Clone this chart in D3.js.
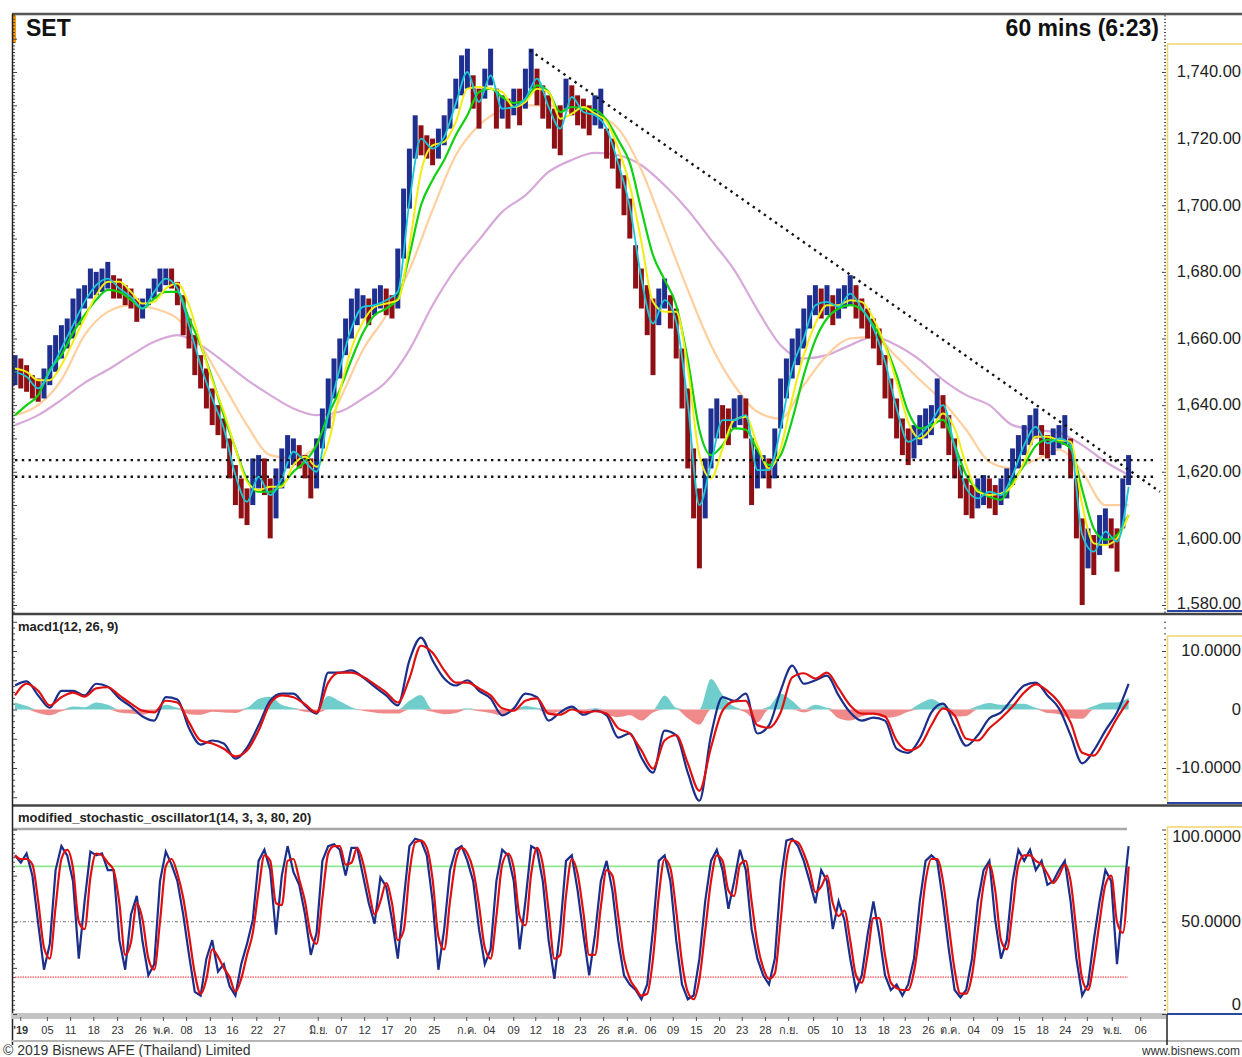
<!DOCTYPE html>
<html lang="th">
<head>
<meta charset="utf-8">
<script src="https://d3js.org/d3.v7.min.js"></script>
<style>
  body { margin: 0; background: #fff; }
  svg { display: block; font-family: "Liberation Sans", Arial, "Noto Sans", "DejaVu Sans", sans-serif; }
</style>
</head>
<body>
<script>
// ---------- data, one point per ~day slot ----------
// price high / low, step 1
const priceHi = [
  1655,1654,1652,1649,1648,1651,1658,1661,1664,1666,
  1672,1675,1676,1681,1680,1681,1683,1679,1678,1676,
  1675,1672,1672,1675,1678,1681,1681,1681,1677,1673,
  1666,1661,1655,1651,1645,1640,1636,1630,1622,1618,
  1615,1624,1625,1624,1618,1621,1627,1631,1630,1628,
  1625,1624,1630,1639,1648,1654,1660,1666,1672,1675,
  1673,1672,1675,1676,1675,1673,1687,1705,1717,1727,
  1724,1721,1720,1723,1727,1732,1738,1745,1747,1739,
  1735,1741,1747,1735,1733,1732,1735,1735,1741,1747,
  1741,1736,1733,1729,1730,1738,1736,1733,1732,1730,
  1733,1735,1723,1720,1714,1709,1702,1688,1681,1676,
  1672,1675,1678,1673,1669,1657,1645,1627,1615,1624,
  1639,1642,1640,1639,1642,1643,1642,1630,1627,1625,
  1624,1633,1648,1654,1660,1663,1669,1673,1676,1675,
  1676,1673,1675,1676,1679,1676,1672,1669,1666,1663,
  1655,1648,1642,1636,1633,1634,1637,1639,1640,1648,
  1643,1637,1630,1622,1618,1616,1618,1619,1618,1616,
  1618,1621,1627,1631,1634,1637,1639,1634,1631,1633,
  1634,1637,1630,1618,1606,1603,1601,1607,1609,1606,
  1603,1618,1625];
const priceLo = [
  1646,1645,1644,1642,1641,1642,1646,1650,1654,1657,
  1660,1664,1669,1672,1673,1674,1675,1672,1672,1670,
  1669,1665,1666,1670,1672,1674,1676,1675,1670,1661,
  1657,1649,1645,1639,1634,1631,1627,1618,1610,1606,
  1604,1610,1615,1613,1600,1606,1615,1621,1622,1621,
  1618,1612,1615,1627,1633,1642,1648,1655,1660,1664,
  1666,1664,1667,1669,1667,1666,1669,1684,1699,1714,
  1715,1714,1712,1714,1718,1723,1729,1733,1735,1729,
  1723,1732,1736,1723,1726,1723,1727,1724,1729,1735,
  1730,1726,1723,1717,1715,1729,1727,1724,1723,1721,
  1724,1723,1714,1711,1705,1697,1690,1675,1669,1661,
  1649,1664,1669,1663,1654,1639,1621,1606,1591,1606,
  1621,1630,1630,1628,1633,1634,1630,1610,1615,1618,
  1615,1618,1633,1642,1648,1652,1657,1663,1667,1666,
  1667,1664,1666,1669,1670,1666,1663,1660,1657,1652,
  1642,1636,1630,1625,1622,1624,1628,1630,1631,1636,
  1633,1625,1618,1612,1607,1606,1609,1610,1609,1607,
  1610,1612,1616,1621,1625,1628,1630,1625,1624,1625,
  1627,1628,1618,1600,1580,1591,1589,1595,1598,1597,
  1590,1603,1616];

// moving averages, step 2
const maCyan = [
  1650,1648.5,1645,1650,1657,1664,1671,1676,1678,1675,
  1672.5,1669,1674,1678,1675,1664,1652,1642,1633,1619,
  1611,1618.5,1613,1618,1626,1623,1620,1637,1651,1663,
  1669.5,1670,1671.5,1674,1701,1720,1717,1720.5,1730.5,1740,
  1731,1739,1729,1729.5,1732,1738,1729.5,1723,1732.5,1728,
  1727,1723,1712.5,1699.5,1678,1664.5,1671.5,1665,1640.5,1610,
  1622.5,1635.5,1635.5,1637,1620.5,1620.5,1633,1651,1660,1670,
  1671,1669.5,1673.5,1669,1663,1653,1639,1629,1631,1635,
  1640,1627.5,1615,1612,1614,1613,1619,1628,1633.5,1628.5,
  1630,1628,1601,1596,1602,1599,1615.5];
const maYellow = [
  1651,1650,1647.5,1647.5,1652,1659,1666,1673,1677,1677,
  1674,1670.5,1671,1675,1676.5,1670,1658.5,1647.5,1638,1627,
  1617,1614.5,1615.5,1615.5,1622,1624.5,1621.5,1628.5,1644,1657,
  1665,1669.5,1670.5,1671.5,1688,1710,1718,1719,1725,1735,
  1735.5,1735,1734,1729.5,1731,1735,1734,1726,1727.5,1729.5,
  1727.5,1725,1717,1706,1689,1671,1668,1668,1651,1625,
  1618,1627,1635.5,1636.5,1628,1621,1627,1642,1655,1664.5,
  1670,1670,1671.5,1671,1666,1658,1647,1635,1630,1633,
  1637.5,1633,1622,1614,1613,1613.5,1616,1623,1630.5,1630.5,
  1629.5,1629,1610,1598.5,1598,1600,1607];
const maGreen = [
  1637,1640,1643,1650.6,1655,1661.7,1667,1671.6,1674.6,1674,
  1671.6,1669,1672,1674,1674,1666,1658,1648,1637,1627,
  1617.6,1614,1614,1616,1620,1623,1628,1637,1644.6,1653.6,
  1661.7,1667,1669,1672,1685,1700,1707.6,1713.6,1721,1727,
  1734,1735,1732.5,1730.7,1731.6,1736,1734,1728,1729.5,1729,
  1728.6,1725.6,1719.6,1712.7,1698.6,1685,1677.6,1670,1653.6,1632.6,
  1625,1628,1633,1632.6,1626.6,1622,1625,1635.6,1649,1659.6,
  1666,1669,1670,1668.6,1664,1658,1649,1638,1633,1634,
  1635.6,1628,1619,1614.6,1612.5,1611.6,1617,1622,1627.8,1629.6,
  1629,1627,1614.6,1603,1599.6,1601,1607];
// slow averages, step 4
const maOrange = [
  1637,1640,1647.6,1661,1668,1670,1669,1666,1658,1646,
  1634,1625,1624,1628,1641.6,1656.6,1667,1680.6,1698.6,1715,
  1724,1728.6,1730,1730,1728,1727,1723,1710.6,1692.6,1674.6,
  1658,1646,1638,1636,1646,1655,1660,1660.5,1654.5,1647.6,
  1641,1632.6,1623,1621,1623.6,1626.6,1620,1610,1610];
const maPurple = [
  1634,1637,1641.6,1646.7,1650.6,1655,1659,1661,1658,1653,
  1647.6,1643,1639,1637,1638,1642,1647,1656.6,1670,1681,
  1689.6,1698,1703,1710,1713.6,1715.7,1715,1712,1706,1698.6,
  1689.6,1680.6,1668.6,1658,1654,1655,1658,1660.5,1658,1653.6,
  1647.6,1643,1640,1634,1632.6,1631.7,1628,1623,1619];

// dotted guide lines: [index, price]
const trendLine = [[88.8, 1746.5], [197.4, 1614]];
const supportLevels = [1623.5, 1618.5];

// macd, step 2
const macdLine = [
  4.1,4.8,2.4,0.3,3.2,3.2,2.4,4.4,3.9,1.9,
  0.5,-1.2,-1.9,2.1,1.7,-3.2,-6.0,-5.3,-5.8,-8.4,
  -6.5,-2.7,1.5,2.7,2.7,0.7,-0.7,6.3,6.3,6.7,
  5.5,3.9,2.4,0.7,8.4,12.3,8.4,5.3,4.1,5,
  3.2,1.9,-1,0.2,2.7,2.1,-1.9,-0.5,0.5,-0.9,
  -0.2,-1,-4.8,-4.1,-8.2,-10.8,-3.6,-4.4,-10.8,-15.6,
  -4.4,2.1,1.5,2.7,-4.1,-2.7,3.2,7.5,4.4,5,
  5.8,2.4,-0.5,-1.9,-1.4,-1.9,-6.7,-7.4,-5,-0.5,
  1,-2.7,-6.2,-4.4,-1.5,-0.5,1.9,4.1,4.6,2.4,
  0.2,-4.4,-9.2,-7,-3.6,-0.5,4.4];
const macdSignal = [
  2.4,4.4,3.2,0.7,2.1,2.9,2.2,3.6,3.8,2.4,
  1,-0.2,-0.5,1.5,1.2,-2.2,-5.3,-5.8,-6.7,-8,
  -7,-3.6,1,2.4,2.1,0.9,-0.5,4.6,6.3,6.3,
  5.6,4.3,2.9,1.2,5.3,10.9,9.7,6.7,4.6,4.6,
  3.6,2.4,0.2,-0.2,1.5,1.9,-0.7,-0.9,0,-0.5,
  -0.3,-0.7,-3.2,-4.1,-7,-10.1,-5.3,-4.4,-9.2,-13.9,
  -6.5,-0.2,1.4,1.5,-2.7,-3.1,-0.5,5.5,6.2,5.3,
  6.3,3.6,0.7,-0.7,-0.7,-1.2,-5.3,-7,-6.2,-2.7,
  0.2,-1,-5,-5.3,-3.2,-1.5,0.5,2.9,4.3,3.2,
  1.2,-2.2,-7.4,-7.9,-5,-1.5,1.5];
const macdHist = [
  1.2,0.6,-0.6,-1.0,-0.3,0.5,0.4,1.2,0.8,-0.5,
  -0.7,-0.9,-0.3,0.8,0.3,-0.8,-0.9,-0.4,-0.5,-0.6,
  0.3,1.8,2.2,0.8,0.3,-0.4,-0.6,2.3,1.4,0.4,
  -0.2,-0.5,-0.7,-0.7,1.5,2.5,-0.4,-0.8,-0.6,0.2,
  -0.3,-0.6,-1.0,-0.3,0.6,0.3,-0.8,-0.3,0.3,-0.3,
  0.2,-0.8,-1.3,-1.0,-1.9,-0.5,2.4,0.3,-1.5,-2.6,
  5.2,2.5,0.5,-0.5,-2.2,0.5,2.7,1.5,-0.5,0.8,
  0.3,-1.5,-1.9,-1.2,-0.8,-1.4,-1.2,-0.4,1.0,1.8,
  0.8,-1.2,-1.1,0.6,1.1,0.8,1.0,1.0,0.3,-0.6,
  -0.8,-1.5,-1.6,0.6,1.2,1.2,2.0];

// stochastic, step 1
const stochK = [
  86,82,87,75,49,24,38,78,91,86,
  72,30,61,88,86,87,78,78,40,24,
  54,64,39,21,27,72,88,81,72,54,
  32,12,10,30,40,23,27,15,10,27,
  38,51,83,89,78,43,75,91,77,70,
  54,32,44,83,91,92,89,75,90,90,
  75,60,49,74,69,51,30,61,91,95,
  94,86,61,24,46,78,89,91,83,72,
  46,27,35,72,89,86,72,35,61,91,
  89,72,40,19,46,83,86,67,43,21,
  43,72,83,67,40,21,16,13,8,16,
  46,83,86,72,40,16,8,10,30,61,
  83,89,78,57,72,89,78,46,30,21,
  16,30,72,94,95,91,83,72,60,78,
  72,46,61,51,30,13,21,43,61,43,
  21,13,16,10,16,30,61,83,86,83,
  61,35,13,9,13,30,61,78,83,51,
  30,40,72,89,83,89,78,83,70,72,
  78,83,61,30,10,16,40,61,78,72,
  27,61,91];
const stochD = [
  86,84,84,81,61,36,30,58,84,89,
  79,50,46,74,87,86,82,78,60,32,
  39,60,51,30,24,50,80,84,76,63,
  43,22,11,19,35,31,25,20,12,19,
  32,44,67,86,83,60,59,83,84,73,
  61,43,38,63,87,91,91,81,82,90,
  82,67,54,61,71,60,40,45,76,93,
  94,90,73,42,35,61,83,90,87,78,
  59,36,30,53,81,87,79,53,48,76,
  90,81,56,30,32,64,84,76,55,32,
  32,58,78,75,53,30,19,14,10,11,
  30,64,84,79,56,28,12,8,19,45,
  72,86,83,67,64,81,83,61,38,25,
  19,22,50,83,94,93,87,78,66,69,
  75,60,53,56,40,21,17,32,52,52,
  32,17,14,13,13,23,45,72,84,84,
  72,48,24,11,11,21,45,70,81,67,
  40,35,56,81,86,86,83,81,76,71,
  75,81,72,45,19,13,28,50,70,75,
  50,44,80];
const stochLevels = [80, 50, 20];

// date axis
const dayTicks = [0.9,5.5,9.5,13.5,17.6,21.6,25.5,29.5,33.6,37.4,41.6,45.5,52.2,56.2,60.2,64.1,68.1,72.2,
  77.8,81.7,85.9,89.7,93.6,97.4,101.4,105.5,109.5,113.4,117.4,121.4,125.3,129.3,133.3,137.6,141.7,145.7,
  149.7,153.4,157.4,161.2,165.2,169.3,173.1,177.1,181,184.8,189.1,194];
const dayLabels = ["'19","05","11","18","23","26","พ.ค.","08","13","16","22","27","มิ.ย.","07","12","17","20","25",
  "ก.ค.","04","09","12","18","23","26","ส.ค.","06","09","15","20","23","28","ก.ย.","05","10","13",
  "18","23","26","ต.ค.","04","09","15","18","24","29","พ.ย.","06"];

const priceTicks = [1580,1600,1620,1640,1660,1680,1700,1720,1740];
const macdTicks = [-10, 0, 10];
const stochTicks = [0, 50, 100];

// ---------- layout ----------
const W = 1242, H = 1057;
const svg = d3.select("body").append("svg").attr("width", W).attr("height", H);

const x = d3.scaleLinear().domain([0, 192]).range([15, 1128.6]);
const yP = d3.scaleLinear().domain([1580, 1740]).range([605, 72]);
const yM = d3.scaleLinear().domain([-10, 10]).range([768, 651]);
const yS = d3.scaleLinear().domain([0, 100]).range([1014, 829.5]);

const defs = svg.append("defs");
function clip(id, y0, y1) {
  defs.append("clipPath").attr("id", id).append("rect")
    .attr("x", 13).attr("y", y0).attr("width", 1152).attr("height", y1 - y0);
}
clip("cMain", 15, 612);
clip("cMacd", 616, 804);
clip("cStoch", 826, 1013);

function line(g, x1, y1, x2, y2, color, w, dash) {
  const l = g.append("line").attr("x1", x1).attr("y1", y1).attr("x2", x2).attr("y2", y2)
    .attr("stroke", color).attr("stroke-width", w);
  if (dash) l.attr("stroke-dasharray", dash);
  return l;
}
const lineGen = (step, ys, curve) => d3.line()
  .x((d, i) => x(i * step)).y(d => ys(d)).curve(curve || d3.curveMonotoneX);

// ---------- main price panel ----------
const gMain = svg.append("g").attr("clip-path", "url(#cMain)");

gMain.append("path").attr("d", lineGen(4, yP)(maPurple))
  .attr("fill", "none").attr("stroke", "#d7a9d9").attr("stroke-width", 2.2);
gMain.append("path").attr("d", lineGen(4, yP)(maOrange))
  .attr("fill", "none").attr("stroke", "#ffcf9e").attr("stroke-width", 2.2);

gMain.selectAll("rect.bar").data(priceHi).join("rect").attr("class", "bar")
  .attr("x", (d, i) => x(i) - 2.5).attr("width", 5)
  .attr("y", d => yP(d))
  .attr("height", (d, i) => yP(priceLo[i]) - yP(d))
  .attr("fill", (d, i) => {
    if (i === 0) return "#1f2f8f";
    const m = d + priceLo[i], p = priceHi[i - 1] + priceLo[i - 1];
    return m >= p ? "#1f2f8f" : "#8e1015";
  });

gMain.append("path").attr("d", lineGen(2, yP)(maGreen))
  .attr("fill", "none").attr("stroke", "#10d010").attr("stroke-width", 2.2);
gMain.append("path").attr("d", lineGen(2, yP)(maYellow))
  .attr("fill", "none").attr("stroke", "#f0ee10").attr("stroke-width", 2);
gMain.append("path").attr("d", lineGen(2, yP)(maCyan))
  .attr("fill", "none").attr("stroke", "#18c8d8").attr("stroke-width", 1.8);

// dotted guides
supportLevels.forEach(v => line(gMain, 15, yP(v), 1156, yP(v), "#111", 2.4, "2.4 4.4"));
gMain.append("path")
  .attr("d", d3.line().x(d => x(d[0])).y(d => yP(d[1]))(trendLine))
  .attr("fill", "none").attr("stroke", "#111").attr("stroke-width", 2.4)
  .attr("stroke-dasharray", "2.4 4.4");

// ---------- macd panel ----------
const gMacd = svg.append("g").attr("clip-path", "url(#cMacd)");
const histArea = d3.area().x((d, i) => x(i * 2)).y0(yM(0)).curve(d3.curveMonotoneX);
gMacd.append("path").attr("d", histArea.y1(d => yM(Math.max(d, 0)))(macdHist))
  .attr("fill", "#6fcdcb");
gMacd.append("path").attr("d", histArea.y1(d => yM(Math.min(d, 0)))(macdHist))
  .attr("fill", "#f08a8a");
gMacd.append("path").attr("d", lineGen(2, yM)(macdLine))
  .attr("fill", "none").attr("stroke", "#1b2e8a").attr("stroke-width", 2.2);
gMacd.append("path").attr("d", lineGen(2, yM)(macdSignal))
  .attr("fill", "none").attr("stroke", "#e01010").attr("stroke-width", 2.2);

// ---------- stochastic panel ----------
const gSto = svg.append("g").attr("clip-path", "url(#cStoch)");
line(gSto, 15, yS(stochLevels[0]), 1128, yS(stochLevels[0]), "#8fe88f", 1.6);
line(gSto, 15, yS(stochLevels[1]), 1128, yS(stochLevels[1]), "#777", 1.2, "3 2 1 2");
line(gSto, 15, yS(stochLevels[2]), 1128, yS(stochLevels[2]), "#ff8080", 1.6, "1.5 1");
gSto.append("path").attr("d", lineGen(1, yS, d3.curveLinear)(stochK))
  .attr("fill", "none").attr("stroke", "#1b2e8a").attr("stroke-width", 2.2);
gSto.append("path").attr("d", lineGen(1, yS)(stochD))
  .attr("fill", "none").attr("stroke", "#e01010").attr("stroke-width", 2.2);

// ---------- frame ----------
const fr = svg.append("g");
line(fr, 12, 14, W, 14, "#555", 2.5);
fr.append("rect").attr("x", 12).attr("y", 15).attr("width", 4).attr("height", 28).attr("fill", "#ff9a00");
line(fr, 12, 614, W, 614, "#444", 2.5);
line(fr, 12, 805.5, W, 805.5, "#444", 2.5);
line(fr, 12, 829, 1127, 829, "#a8a8a8", 2.5);
line(fr, 12.5, 14, 12.5, 1045, "#222", 1.5);

// right label boxes
[[44, 611], [636, 803], [827, 1014]].forEach(([t, b]) => {
  line(fr, 1167.5, t, 1167.5, b, "#f3d36b", 1.5);
  line(fr, 1167, t, W, t, "#f3d36b", 1.5);
  line(fr, 1167, b, W, b, "#2a46a0", 2);
});

// date band
fr.append("rect").attr("x", 12).attr("y", 1013).attr("width", 1154).attr("height", 6).attr("fill", "#c4c4c4");
line(fr, 12, 1041, W, 1041, "#b5b5b5", 2);
line(fr, 1167, 1014, 1167, 1045, "#222", 1.5);

// rulers (minor ticks)
function ruler(ys, vals, major, xpos, dir) {
  const g = svg.append("g").attr("transform", `translate(${xpos},0)`);
  const ax = (dir > 0 ? d3.axisRight(ys) : d3.axisLeft(ys)).tickValues(vals)
    .tickSize(2).tickFormat("");
  g.call(ax);
  g.select(".domain").remove();
  g.selectAll(".tick line").attr("stroke", "#444")
    .attr("x2", d => dir * (major(d) ? 4 : 2));
}
ruler(yP, d3.range(1578, 1758, 1), d => d % 10 === 0, 13, 1);
ruler(yP, d3.range(1578, 1758, 1), d => d % 20 === 0, 1166, -1);
ruler(yM, d3.range(-15, 16, 1), d => d % 5 === 0, 13, 1);
ruler(yM, d3.range(-15, 16, 1), d => d % 10 === 0, 1166, -1);
ruler(yS, d3.range(0, 101, 2.5), d => d % 25 === 0, 13, 1);
ruler(yS, d3.range(0, 101, 2.5), d => d % 50 === 0, 1166, -1);

// value labels (right aligned inside the box, kept inside its edges)
function valueAxis(ys, vals, fmt, lo, hi) {
  const g = svg.append("g").attr("transform", "translate(1241,0)")
    .call(d3.axisRight(ys).tickValues(vals).tickSize(0).tickPadding(0).tickFormat(fmt));
  g.select(".domain").remove();
  g.selectAll(".tick").attr("transform", d => `translate(0,${Math.max(lo, Math.min(hi, ys(d)))})`);
  g.selectAll("text").attr("text-anchor", "end").attr("font-size", 16.5)
    .attr("font-family", "Liberation Sans, Arial, sans-serif").attr("fill", "#222");
}
valueAxis(yP, priceTicks, d3.format(",.2f"), 50, 604);
const f4 = d => d === 0 ? "0" : d.toFixed(4);
valueAxis(yM, macdTicks, f4, 645, 795);
valueAxis(yS, stochTicks, f4, 837, 1005);

// date axis
const gx = svg.append("g").attr("transform", "translate(0,1017)")
  .call(d3.axisBottom(x).tickValues(dayTicks).tickSize(4).tickPadding(5)
    .tickFormat((d, i) => dayLabels[i]));
gx.select(".domain").remove();
gx.selectAll(".tick line").attr("stroke", "#555");
gx.selectAll("text").attr("font-size", 11).attr("fill", "#333")
  .attr("font-family", "Liberation Sans, Arial, sans-serif")
  .attr("font-weight", (d, i) => i === 0 ? "bold" : "normal");

// titles
svg.append("text").attr("x", 26).attr("y", 36).text("SET")
  .attr("font-size", 23).attr("font-weight", "bold").attr("fill", "#111");
svg.append("text").attr("x", 1159).attr("y", 36).attr("text-anchor", "end").text("60 mins (6:23)")
  .attr("font-size", 23).attr("font-weight", "bold").attr("fill", "#111");
svg.append("text").attr("x", 18).attr("y", 631).text("macd1(12, 26, 9)")
  .attr("font-size", 13).attr("font-weight", "bold").attr("fill", "#222");
svg.append("text").attr("x", 18).attr("y", 822).text("modified_stochastic_oscillator1(14, 3, 3, 80, 20)")
  .attr("font-size", 13).attr("font-weight", "bold").attr("fill", "#222");

// footer
svg.append("text").attr("x", 3).attr("y", 1055).text("© 2019 Bisnews AFE (Thailand) Limited")
  .attr("font-size", 14).attr("fill", "#333");
svg.append("text").attr("x", 1240).attr("y", 1055).attr("text-anchor", "end").text("www.bisnews.com")
  .attr("font-size", 12).attr("fill", "#333");
</script>
</body>
</html>
